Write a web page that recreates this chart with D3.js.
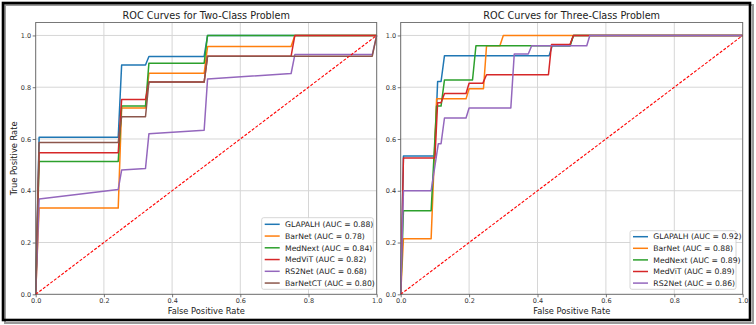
<!DOCTYPE html>
<html>
<head>
<meta charset="utf-8">
<script src="https://cdn.jsdelivr.net/npm/d3@7"></script>
<style>
  html, body { margin: 0; padding: 0; background: #fff; }
  svg { display: block; }
  text { font-family: "DejaVu Sans", sans-serif; }
</style>
</head>
<body>
<script>
// ---------- DATA ----------
const tickValues = [0.0, 0.2, 0.4, 0.6, 0.8, 1.0];

const titleTwo = "ROC Curves for Two-Class Problem";
const titleThree = "ROC Curves for Three-Class Problem";
const xLabel = "False Positive Rate";
const yLabel = "True Positive Rate";

const modelsTwo = ["GLAPALH", "BarNet", "MedNext", "MedViT", "RS2Net", "BarNetCT"];
const aucTwo = [0.88, 0.78, 0.84, 0.82, 0.68, 0.80];

const modelsThree = ["GLAPALH", "BarNet", "MedNext", "MedViT", "RS2Net"];
const aucThree = [0.92, 0.88, 0.89, 0.89, 0.86];

// Two-class ROC points
const fprGLAPALH2 = [0, 0.01, 0.242, 0.252, 0.322, 0.332, 0.494, 0.504, 1.0];
const tprGLAPALH2 = [0, 0.607, 0.607, 0.886, 0.886, 0.919, 0.919, 1.0, 1.0];
const fprBarNet2 = [0, 0.01, 0.242, 0.252, 0.322, 0.332, 0.494, 0.504, 0.749, 0.76, 1.0];
const tprBarNet2 = [0, 0.333, 0.333, 0.72, 0.72, 0.854, 0.854, 0.957, 0.957, 1.0, 1.0];
const fprMedNext2 = [0, 0.01, 0.242, 0.252, 0.322, 0.332, 0.494, 0.504, 1.0];
const tprMedNext2 = [0, 0.513, 0.513, 0.727, 0.727, 0.893, 0.893, 1.0, 1.0];
const fprMedViT2 = [0, 0.01, 0.242, 0.252, 0.322, 0.332, 0.494, 0.504, 0.749, 0.76, 1.0];
const tprMedViT2 = [0, 0.547, 0.547, 0.753, 0.753, 0.82, 0.82, 0.92, 0.92, 1.0, 1.0];
const fprRS2Net2 = [0, 0.01, 0.242, 0.252, 0.322, 0.332, 0.494, 0.504, 0.749, 0.76, 0.987, 1.0];
const tprRS2Net2 = [0, 0.368, 0.405, 0.48, 0.486, 0.62, 0.634, 0.832, 0.853, 0.926, 0.926, 1.0];
const fprBarNetCT2 = [0, 0.01, 0.242, 0.252, 0.322, 0.332, 0.494, 0.504, 0.987, 1.0];
const tprBarNetCT2 = [0, 0.586, 0.586, 0.686, 0.686, 0.82, 0.82, 0.92, 0.92, 1.0];

// Three-class ROC points
const fprGLAPALH3 = [0, 0.008, 0.099, 0.108, 0.118, 0.128, 0.434, 0.443, 0.495, 0.505, 1.0];
const tprGLAPALH3 = [0, 0.534, 0.534, 0.822, 0.822, 0.922, 0.922, 0.96, 0.96, 1.0, 1.0];
const fprBarNet3 = [0, 0.008, 0.089, 0.105, 0.191, 0.2, 0.242, 0.251, 0.29, 0.3, 1.0];
const tprBarNet3 = [0, 0.215, 0.215, 0.755, 0.755, 0.794, 0.794, 0.96, 0.96, 1.0, 1.0];
const fprMedNext3 = [0, 0.008, 0.089, 0.105, 0.118, 0.128, 0.21, 0.22, 0.495, 0.505, 1.0];
const tprMedNext3 = [0, 0.323, 0.323, 0.727, 0.727, 0.828, 0.828, 0.96, 0.96, 1.0, 1.0];
const fprMedViT3 = [0, 0.008, 0.1, 0.108, 0.118, 0.128, 0.191, 0.2, 0.24, 0.251, 0.432, 0.441, 0.495, 0.505, 1.0];
const tprMedViT3 = [0, 0.527, 0.527, 0.74, 0.74, 0.776, 0.776, 0.815, 0.815, 0.848, 0.848, 0.965, 0.965, 1.0, 1.0];
const fprRS2Net3 = [0, 0.008, 0.089, 0.11, 0.118, 0.128, 0.191, 0.2, 0.322, 0.332, 0.373, 0.383, 0.544, 0.553, 1.0];
const tprRS2Net3 = [0, 0.4, 0.4, 0.582, 0.582, 0.681, 0.681, 0.72, 0.72, 0.928, 0.928, 0.96, 0.96, 1.0, 1.0];

const chanceLine = [[0, 0], [1, 1]];

const colors = ["#1f77b4", "#ff7f0e", "#2ca02c", "#d62728", "#9467bd", "#8c564b"];

// ---------- BUILD ----------
const W = 756, H = 325;
const svg = d3.select("body").append("svg").attr("width", W).attr("height", H);
svg.append("rect").attr("width", W).attr("height", H).attr("fill", "#fff");

// frame with slight shadow
svg.append("rect").attr("x", 5).attr("y", 5).attr("width", 748).attr("height", 318)
  .attr("fill", "none").attr("stroke", "#9a9a9a").attr("stroke-width", 2);
svg.append("rect").attr("x", 3).attr("y", 3).attr("width", 747).attr("height", 317)
  .attr("fill", "none").attr("stroke", "#000").attr("stroke-width", 2.6);

function zip(f, t) { return f.map((v, i) => [v, t[i]]); }

const seriesTwo = [
  zip(fprGLAPALH2, tprGLAPALH2), zip(fprBarNet2, tprBarNet2), zip(fprMedNext2, tprMedNext2),
  zip(fprMedViT2, tprMedViT2), zip(fprRS2Net2, tprRS2Net2), zip(fprBarNetCT2, tprBarNetCT2)
];
const seriesThree = [
  zip(fprGLAPALH3, tprGLAPALH3), zip(fprBarNet3, tprBarNet3), zip(fprMedNext3, tprMedNext3),
  zip(fprMedViT3, tprMedViT3), zip(fprRS2Net3, tprRS2Net3)
];

function panel(cfg) {
  const x = d3.scaleLinear().domain([0, 1]).range([cfg.x0, cfg.x1]);
  const y = d3.scaleLinear().domain([0, 1.05]).range([cfg.y0, cfg.y1]);
  const g = svg.append("g");

  // grid
  g.append("g").selectAll("line.vx").data(tickValues).join("line")
    .attr("x1", d => x(d)).attr("x2", d => x(d)).attr("y1", y(0)).attr("y2", y(1.05))
    .attr("stroke", "#d6d6d6").attr("stroke-width", 1);
  g.append("g").selectAll("line.hy").data(tickValues).join("line")
    .attr("x1", x(0)).attr("x2", x(1)).attr("y1", d => y(d)).attr("y2", d => y(d))
    .attr("stroke", "#d6d6d6").attr("stroke-width", 1);

  // curves
  const line = d3.line().x(d => x(d[0])).y(d => y(d[1]));
  const clip = "clip" + cfg.id;
  svg.append("clipPath").attr("id", clip).append("rect")
    .attr("x", x(0) - 1).attr("y", y(1.05)).attr("width", x(1) - x(0) + 2).attr("height", y(0) - y(1.05) + 1);
  const cg = g.append("g").attr("clip-path", `url(#${clip})`);
  cfg.series.forEach((s, i) => {
    cg.append("path").attr("d", line(s)).attr("fill", "none")
      .attr("stroke", colors[i]).attr("stroke-width", 1.5).attr("stroke-linejoin", "round");
  });
  cg.append("path").attr("d", line(chanceLine)).attr("fill", "none")
    .attr("stroke", "#ff0000").attr("stroke-width", 1.1).attr("stroke-dasharray", "3,1.6");

  // spines
  g.append("rect").attr("x", x(0)).attr("y", y(1.05)).attr("width", x(1) - x(0)).attr("height", y(0) - y(1.05))
    .attr("fill", "none").attr("stroke", "#6a6a6a").attr("stroke-width", 0.9);

  // axes
  const xa = g.append("g").attr("transform", `translate(0,${y(0)})`)
    .call(d3.axisBottom(x).tickValues(tickValues).tickFormat(d3.format(".1f")).tickSize(3).tickPadding(1.5));
  const ya = g.append("g").attr("transform", `translate(${x(0)},0)`)
    .call(d3.axisLeft(y).tickValues(tickValues).tickFormat(d3.format(".1f")).tickSize(3).tickPadding(1.5));
  [xa, ya].forEach(a => {
    a.select(".domain").remove();
    a.selectAll(".tick line").attr("stroke", "#555").attr("stroke-width", 0.8);
    a.selectAll(".tick text").attr("fill", "#333").style("font-family", "DejaVu Sans").style("font-size", "6.5px");
  });

  // title
  g.append("text").attr("x", (x(0) + x(1)) / 2).attr("y", 19.3).attr("text-anchor", "middle")
    .attr("fill", "#222").style("font-size", "9.7px").text(cfg.title);
  // x label
  g.append("text").attr("x", (x(0) + x(1)) / 2).attr("y", 313.6).attr("text-anchor", "middle")
    .attr("fill", "#222").style("font-size", "8.3px").text(xLabel);
  if (cfg.ylabel) {
    g.append("text").attr("transform", `translate(16.5,${(y(0) + y(1.05)) / 2}) rotate(-90)`)
      .attr("text-anchor", "middle").attr("fill", "#222").style("font-size", "8.3px").text(yLabel);
  }

  // legend
  const L = cfg.legend;
  const lg = g.append("g");
  lg.append("rect").attr("x", L.x).attr("y", L.y).attr("width", L.w).attr("height", L.h)
    .attr("rx", 2).attr("fill", "#fff").attr("fill-opacity", 0.85).attr("stroke", "#cccccc").attr("stroke-width", 0.8);
  cfg.names.forEach((n, i) => {
    const cy = L.firstRow + i * L.step;
    lg.append("line").attr("x1", L.x + 3).attr("x2", L.x + 18).attr("y1", cy).attr("y2", cy)
      .attr("stroke", colors[i]).attr("stroke-width", 1.5);
    lg.append("text").attr("x", L.x + 23.3).attr("y", cy + 2.7).attr("fill", "#222")
      .style("font-size", "7.7px").text(`${n} (AUC = ${cfg.aucs[i].toFixed(2)})`);
  });
}

panel({
  id: "L", x0: 35.7, x1: 376.7, y0: 294.3, y1: 22.5,
  series: seriesTwo, names: modelsTwo, aucs: aucTwo, title: titleTwo, ylabel: true,
  legend: { x: 261.7, y: 217.7, w: 111.6, h: 71.6, firstRow: 224.3, step: 11.75 }
});
panel({
  id: "R", x0: 400.7, x1: 742.7, y0: 294.3, y1: 22.5,
  series: seriesThree, names: modelsThree, aucs: aucThree, title: titleThree, ylabel: false,
  legend: { x: 630, y: 230.7, w: 106, h: 58.6, firstRow: 236.7, step: 11.6 }
});
</script>
</body>
</html>
